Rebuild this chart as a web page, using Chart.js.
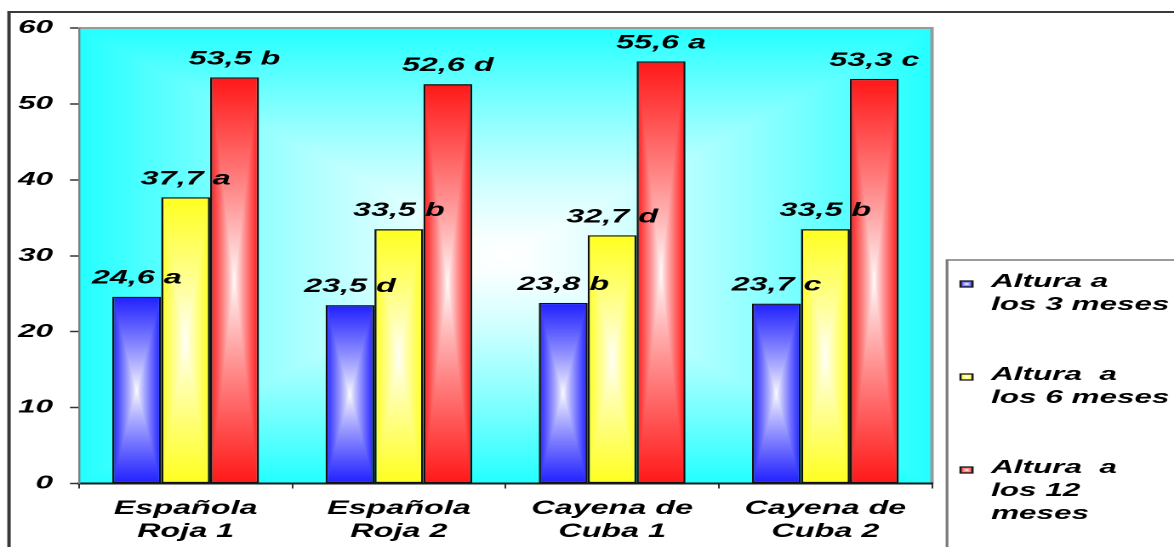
<!DOCTYPE html>
<html>
<head>
<meta charset="utf-8">
<title>Altura de plantas</title>
<script src="https://cdn.jsdelivr.net/npm/chart.js@4/dist/chart.umd.min.js"></script>
<style>
  html, body { margin: 0; padding: 0; background: #fff; overflow: hidden; }
  /* the chart is laid out narrow and widened horizontally, giving the broad lettering */
  #stage { position: absolute; left: 0; top: 0; width: 690px; height: 547px;
           transform: scaleX(1.701449); transform-origin: 0 0; }
  canvas { display: block; }
</style>
</head>
<body>
<div id="stage"><canvas id="chart" width="690" height="547"></canvas></div>
<script>
// ---- data ----
const categories = [["Española", "Roja 1"], ["Española", "Roja 2"], ["Cayena de", "Cuba 1"], ["Cayena de", "Cuba 2"]];
const seriesNames = [["Altura a", "los 3 meses"], ["Altura  a", "los 6 meses"], ["Altura  a", "los 12", "meses"]];
const altura3 = [24.6, 23.5, 23.8, 23.7];
const altura6 = [37.7, 33.5, 32.7, 33.5];
const altura12 = [53.5, 52.6, 55.6, 53.3];
const letras3 = ["a", "d", "b", "c"];
const letras6 = ["a", "b", "d", "b"];
const letras12 = ["b", "d", "a", "c"];
const yMin = 0, yMax = 60, yStep = 10;

// ---- styling ----
const SX = 1174 / 690;               // horizontal widening of the stage
const DPR = 2;
const FONT = "'Liberation Sans', Arial, sans-serif";
const BLUE = [32, 32, 255], YELLOW = [255, 255, 32], RED = [255, 24, 24], CYAN = [34, 255, 255];
const CAT_PCT = 0.688;

const PLOT_LEFT = 79 / SX, PLOT_RIGHT = 932 / SX, PLOT_TOP = 28, PLOT_BOTTOM = 483.5;

// rectangular "from centre" gradient: white in the middle, full colour at the edges
function rectGradient(w, h, rgb, power, k) {
  const pw = Math.max(1, Math.round(w * k)), ph = Math.max(1, Math.round(h * k));
  const cv = document.createElement("canvas");
  cv.width = pw; cv.height = ph;
  const g = cv.getContext("2d");
  const im = g.createImageData(pw, ph);
  const d = im.data;
  for (let y = 0; y < ph; y++) {
    const ty = Math.abs((y + 0.5) / ph * 2 - 1);
    for (let x = 0; x < pw; x++) {
      const tx = Math.abs((x + 0.5) / pw * 2 - 1);
      const t = Math.pow(Math.max(tx, ty), power);
      const i = (y * pw + x) * 4;
      d[i] = 255 + (rgb[0] - 255) * t;
      d[i + 1] = 255 + (rgb[1] - 255) * t;
      d[i + 2] = 255 + (rgb[2] - 255) * t;
      d[i + 3] = 255;
    }
  }
  g.putImageData(im, 0, 0);
  return cv;
}

function barFill(rgb) {
  const solid = `rgb(${rgb.join(",")})`;
  return (ctx) => {
    const chart = ctx.chart;
    if (!chart.chartArea || ctx.type !== "data") return solid;
    const xs = chart.scales.x, ys = chart.scales.y;
    const n = chart.data.labels.length;
    const nSeries = chart.data.datasets.length;
    const center = xs.getPixelForValue(ctx.dataIndex);
    const group = (xs.width / n) * CAT_PCT;
    const bw = group / nSeries;
    const left = center - group / 2 + ctx.datasetIndex * bw;
    const top = ys.getPixelForValue(ctx.raw);
    const bottom = ys.getPixelForValue(0);
    if (!isFinite(left) || !isFinite(top) || bottom - top < 1) return solid;
    const img = rectGradient(bw, bottom - top, rgb, 0.85, DPR);
    const pat = chart.ctx.createPattern(img, "no-repeat");
    pat.setTransform(new DOMMatrix([1 / DPR, 0, 0, 1 / DPR, left, top]));
    return pat;
  };
}

const fmt = (v) => v.toFixed(1).replace(".", ",");

const series = [
  { name: seriesNames[0], values: altura3, letters: letras3, rgb: BLUE },
  { name: seriesNames[1], values: altura6, letters: letras6, rgb: YELLOW },
  { name: seriesNames[2], values: altura12, letters: letras12, rgb: RED }
];

// plot background, frame lines and legend box
let plotBg = null;
const backdrop = {
  id: "backdrop",
  beforeDraw(chart) {
    const c = chart.ctx, a = chart.chartArea;
    c.save();
    // outer frame (left and top edges)
    c.strokeStyle = "#3a3a3a";
    c.lineWidth = 2;
    c.beginPath(); c.moveTo(9 / SX, chart.height + 5); c.lineTo(9 / SX, 12); c.lineTo(chart.width + 5, 12); c.stroke();
    // plot area fill
    if (!plotBg || plotBg.w !== a.width || plotBg.h !== a.height) {
      plotBg = { w: a.width, h: a.height, img: rectGradient(a.width, a.height, CYAN, 1.3, DPR) };
    }
    c.drawImage(plotBg.img, a.left, a.top, a.width, a.height);
    // plot area top / right edges
    c.strokeStyle = "#9a9a9a";
    c.lineWidth = 2;
    c.beginPath(); c.moveTo(a.left, a.top); c.lineTo(a.right, a.top); c.lineTo(a.right, a.bottom); c.stroke();
    // legend box
    c.strokeStyle = "#7a7a7a";
    c.lineWidth = 1.6;
    c.beginPath(); c.moveTo(947 / SX, chart.height + 5); c.lineTo(947 / SX, 260); c.lineTo(chart.width + 5, 260); c.stroke();
    c.restore();
  }
};

// value + letter above each bar
const valueLabels = {
  id: "valueLabels",
  afterDatasetsDraw(chart) {
    const c = chart.ctx;
    c.save();
    c.font = `italic bold 19px ${FONT}`;
    c.fillStyle = "#000";
    c.textAlign = "center";
    c.textBaseline = "alphabetic";
    chart.data.datasets.forEach((ds, di) => {
      chart.getDatasetMeta(di).data.forEach((el, i) => {
        c.fillText(`${fmt(ds.data[i])} ${ds.letters[i]}`, el.x, el.y - 13);
      });
    });
    c.restore();
  }
};

// legend at the lower right
const sideLegend = {
  id: "sideLegend",
  afterDraw(chart) {
    const c = chart.ctx;
    c.save();
    c.font = `italic bold 18.5px ${FONT}`;
    c.fillStyle = "#000";
    c.textAlign = "left";
    c.textBaseline = "alphabetic";
    chart.data.datasets.forEach((ds, di) => {
      const base = 287 + di * 93;
      const sw = 12 / SX, sh = 6;
      const sx = 960.5 / SX, sy = base - sh;
      c.drawImage(rectGradient(sw, sh, ds.rgb, 1, DPR * 2), sx, sy, sw, sh);
      c.strokeStyle = "#1a1a1a";
      c.lineWidth = 1.3;
      c.strokeRect(sx, sy, sw, sh);
      c.fillStyle = "#000";
      ds.label.forEach((line, li) => c.fillText(line, 991 / SX, base + li * 23));
    });
    c.restore();
  }
};

new Chart(document.getElementById("chart"), {
  type: "bar",
  data: {
    labels: categories,
    datasets: series.map((s) => ({
      label: s.name,
      data: s.values,
      letters: s.letters,
      rgb: s.rgb,
      backgroundColor: barFill(s.rgb),
      borderColor: "#111",
      borderWidth: 1.3,
      borderSkipped: false,
      categoryPercentage: CAT_PCT,
      barPercentage: 1
    }))
  },
  options: {
    responsive: false,
    devicePixelRatio: DPR,
    animation: false,
    events: [],
    layout: { padding: { left: 0, top: PLOT_TOP, right: 690 - PLOT_RIGHT, bottom: 0 } },
    plugins: { legend: { display: false }, title: { display: false }, tooltip: { enabled: false } },
    scales: {
      x: {
        afterFit(s) { s.height = 547 - PLOT_BOTTOM; },
        grid: { drawOnChartArea: false, drawTicks: true, tickLength: 5, tickColor: "#333", tickWidth: 1, offset: true },
        border: { display: true, color: "#1a1a1a", width: 2 },
        ticks: {
          color: "#000",
          font: { family: FONT, size: 19, style: "italic", weight: "bold", lineHeight: 1.2 },
          padding: 9, maxRotation: 0, minRotation: 0, autoSkip: false
        }
      },
      y: {
        min: yMin, max: yMax,
        afterFit(s) { s.width = PLOT_LEFT; },
        grid: { drawOnChartArea: false, drawTicks: true, tickLength: 9 / SX, tickColor: "#333", tickWidth: 1.5 },
        border: { display: true, color: "#7f7f7f", width: 1.2 },
        ticks: {
          stepSize: yStep,
          color: "#000",
          padding: 10,
          font: { family: FONT, size: 18.5, style: "italic", weight: "bold" }
        }
      }
    }
  },
  plugins: [backdrop, valueLabels, sideLegend]
});
</script>
</body>
</html>
